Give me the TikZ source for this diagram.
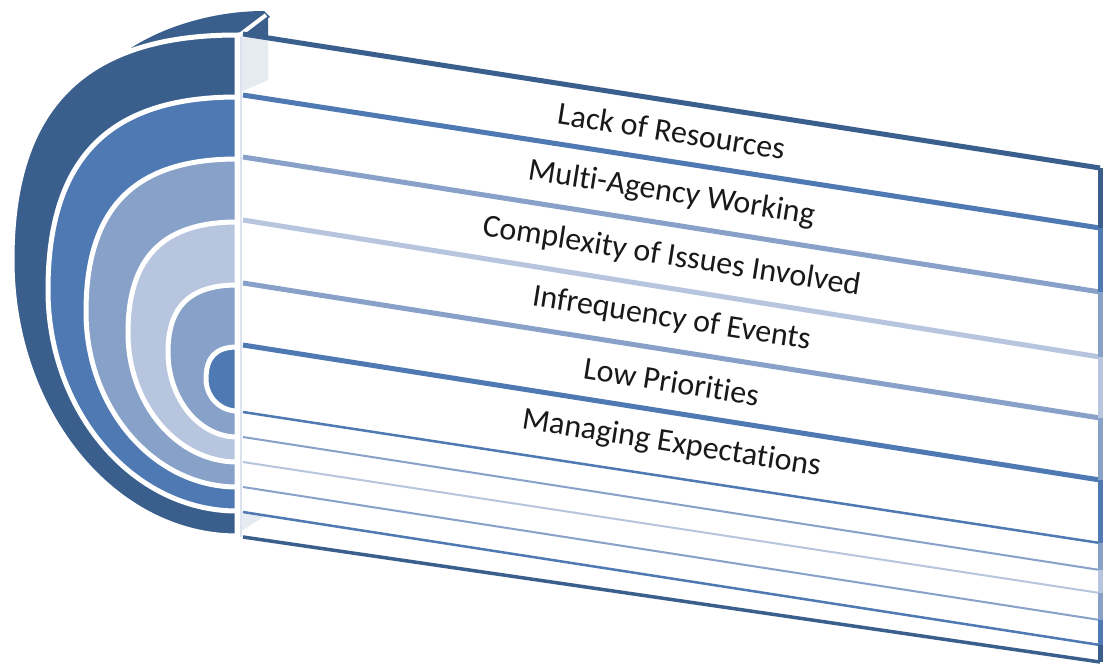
\documentclass[tikz,border=0pt]{standalone}
\usepackage{fontspec}
\setmainfont{Carlito}[Ligatures=NoCommon]
\usetikzlibrary{calc}
\definecolor{ringA}{HTML}{3B5F8D}
\definecolor{ringB}{HTML}{4F79B3}
\definecolor{ringC}{HTML}{88A1C9}
\definecolor{ringD}{HTML}{B8C5DF}
\definecolor{sideface}{HTML}{E6EBF2}
\begin{document}
\begin{tikzpicture}[x=1pt, y=-1pt,
    label/.style={text=black!90, font=\fontsize{32}{38}\selectfont, rotate=-9, inner sep=0pt}]
	\fill[white] (0,0) rectangle (1107,665);
	\useasboundingbox (0,0) rectangle (1107,665);
	
	\fill[ringA] (131,48) .. controls (165,26) and (215,11) .. (264,11) -- (270,17) -- (237,38) -- cycle;
	
	\foreach \t/\b/\l/\m/\c in {35/536/12/260/ringA, 97/511/48/290/ringB, 159/487/86/312/ringC, 222/462/128/333/ringD, 285/437/168/352/ringC, 347/411/206/379/ringB}
		\filldraw[fill=\c, draw=white, line width=5] (237,\t) .. controls ({237-0.68*(237-\l)},\t) and (\l,{\m-0.68*(\m-\t)}) .. (\l,\m) .. controls (\l,{\m+0.55*(\b-\m)}) and ({237-0.55*(237-\l)},\b) .. (237,\b) -- cycle;
	
	\fill[sideface] (241,38) -- (268,35) -- (268,80) -- (241,92) -- cycle;
	\fill[sideface] (241,513) -- (267,515) -- (241,531) -- cycle;
	\draw[sideface!80!ringD, line width=1.5] (241,36) -- (241,537);
	
	\foreach \i/\yl/\yr in {1/34/168, 2/95/228, 3/157/292, 4/220/357, 5/283/418, 6/345/480, 7/412/543, 8/437/570, 9/462/593, 10/487/620, 11/512/645, 12/537/662}{
		\coordinate (l\i) at (243,\yl);
		\coordinate (r\i) at (1100,\yr);
	}
	\fill[ringA] (243,34) -- (268,17) -- (268,36) -- cycle;
	\draw[white, line width=4] (237,37) -- (266,15);
	
	\foreach \i/\c/\w in {1/ringA/5, 2/ringB/5, 3/ringC/5, 4/ringD/5, 5/ringC/5, 6/ringB/5, 7/ringB/2.5, 8/ringC/2, 9/ringD/2, 10/ringC/2, 11/ringB/2.5, 12/ringA/3.5}
		\draw[\c, line width=\w] (l\i) -- (r\i);
	
	\foreach \i/\j/\c in {1/2/ringA, 2/3/ringB, 3/4/ringC, 4/5/ringD, 5/6/ringC, 6/7/ringB, 7/8/ringC, 8/9/ringD, 9/10/ringC, 10/11/ringB, 11/12/ringA}
		\draw[\c, line width=5] (r\i) -- (r\j);
	
	\node[label] (lack) at ($(l1)!.5!(r2)$) {Lack of Resources};
	\node[label] (agency) at ($(l2)!.5!(r3)$) {Multi-Agency Working};
	\node[label] (complexity) at ($(l3)!.5!(r4)$) {Complexity of Issues Involved};
	\node[label] (events) at ($(l4)!.5!(r5)$) {Infrequency of Events};
	\node[label] (priorities) at ($(l5)!.5!(r6)$) {Low Priorities};
	\node[label] (expectations) at ($(l6)!.5!(r7)$) {Managing Expectations};
\end{tikzpicture}
\end{document}
